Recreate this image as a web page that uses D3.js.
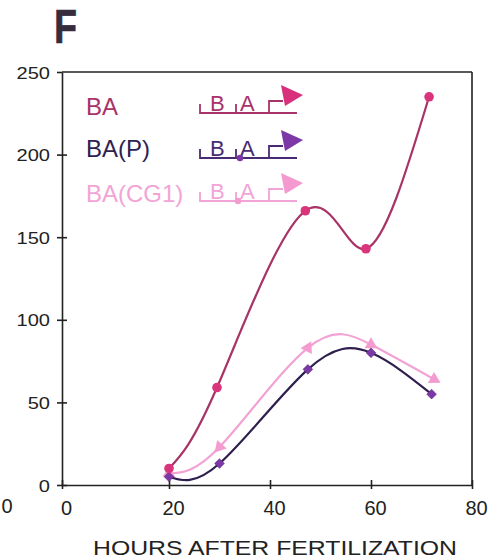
<!DOCTYPE html>
<html>
<head>
<meta charset="utf-8">
<script src="https://cdn.jsdelivr.net/npm/d3@7"></script>
<style>
  html, body { margin: 0; padding: 0; background: #fff; }
  svg { display: block; font-family: "Liberation Sans", Arial, sans-serif; }
</style>
</head>
<body>
<svg id="chart" width="489" height="560"></svg>
<script>
// Reporter expression over development (hours after fertilization)
const seriesNames = ["BA", "BA(P)", "BA(CG1)"];
const baHours   = [20, 29.5, 47, 59, 71.5];
const baValues  = [10, 59, 166, 143, 235];
const pHours    = [20, 30, 47.5, 60, 72];
const pValues   = [5, 13, 70, 80, 55];
const cgHours   = [20, 30, 47.5, 60, 72.5];
const cgValues  = [7, 23, 83, 85, 64];
const xTicks = [0, 20, 40, 60, 80];
const yTicks = [0, 50, 100, 150, 200, 250];
const xTitle = "HOURS AFTER FERTILIZATION";
const panelLabel = "F";

const svg = d3.select("#chart");

const plotLeft = 62, plotRight = 472, plotTop = 72, plotBottom = 485;
const x = d3.scaleLinear().domain([0, 20, 80]).range([plotLeft, 169, plotRight]);
const y = d3.scaleLinear().domain([0, 250]).range([plotBottom, plotTop]);

const colors = {
  ba: { line: "#a83467", mark: "#d9347c", text: "#a8336a" },
  p:  { line: "#2e1f4e", mark: "#7b38a6", text: "#2e2350" },
  cg: { line: "#f2a2d4", mark: "#f49bd0", text: "#f2a4d6" }
};

function stretch(sel, k) {
  sel.each(function () {
    const len = this.getComputedTextLength();
    d3.select(this).attr("textLength", len * k).attr("lengthAdjust", "spacingAndGlyphs");
  });
}

// panel letter
svg.append("text")
  .attr("x", 0).attr("y", 0)
  .attr("transform", "translate(54,43) scale(0.82,1.04)")
  .attr("font-size", 46).attr("font-weight", "bold")
  .attr("fill", "#352c3c").attr("stroke", "#352c3c").attr("stroke-width", 0.6)
  .text(panelLabel);

// frame: top and right
svg.append("line").attr("x1", plotLeft).attr("x2", plotRight).attr("y1", plotTop).attr("y2", plotTop)
  .attr("stroke", "#222").attr("stroke-width", 1.6);
svg.append("line").attr("x1", plotRight).attr("x2", plotRight).attr("y1", plotTop).attr("y2", plotBottom)
  .attr("stroke", "#222").attr("stroke-width", 1.6);

// y axis
const yAxis = svg.append("g").attr("transform", `translate(${plotLeft},0)`)
  .call(d3.axisLeft(y).tickValues(yTicks).tickSize(5).tickSizeOuter(0).tickPadding(7));
yAxis.selectAll(".tick line").attr("x1", 5);
yAxis.selectAll("path, line").attr("stroke", "#222").attr("stroke-width", 1.6);
yAxis.selectAll("text").attr("font-size", 17).attr("fill", "#222")
  .attr("font-family", "Liberation Sans, Arial, sans-serif").attr("dy", "0.36em");
yAxis.select(".tick:last-of-type line").attr("x1", 0);
stretch(yAxis.selectAll("text"), 1.18);

// x axis
const xAxis = svg.append("g").attr("transform", `translate(0,${plotBottom})`)
  .call(d3.axisBottom(x).tickValues(xTicks).tickSize(4).tickSizeOuter(0).tickPadding(12));
xAxis.selectAll(".tick line").attr("y1", -5);
xAxis.selectAll("path, line").attr("stroke", "#222").attr("stroke-width", 1.6);
xAxis.selectAll("text").attr("font-size", 20).attr("fill", "#222").attr("dx", 4)
  .attr("font-family", "Liberation Sans, Arial, sans-serif");

// stray origin label at far left
svg.append("text").attr("x", 7).attr("y", 513).attr("text-anchor", "middle")
  .attr("font-size", 20).attr("fill", "#222").text(xTicks[0]);

// x axis title
svg.append("text").attr("x", 275).attr("y", 555).attr("text-anchor", "middle")
  .attr("font-size", 21).attr("fill", "#222")
  .attr("textLength", 364).attr("lengthAdjust", "spacingAndGlyphs")
  .text(xTitle);

// curves
const line = d3.line().x(d => x(d[0])).y(d => y(d[1])).curve(d3.curveNatural);
const baData = d3.zip(baHours, baValues);
const pData = d3.zip(pHours, pValues);
const cgData = d3.zip(cgHours, cgValues);

const plot = svg.append("g");

// BA(CG1): light pink with arrowhead markers
plot.append("path").datum(cgData).attr("d", line)
  .attr("fill", "none").attr("stroke", colors.cg.line).attr("stroke-width", 2.2);
const cgPeak = d3.maxIndex(cgValues);
plot.selectAll(".cgm").data(cgData).join("path")
  .attr("d", d3.symbol(d3.symbolTriangle, 70))
  .attr("transform", (d, i) => {
    let ang = 0;
    if (i !== cgPeak) {
      const nb = cgData[i < cgPeak ? i + 1 : i - 1];
      const dx = x(d[0]) - x(nb[0]), dy = y(d[1]) - y(nb[1]);
      ang = Math.atan2(dy, dx) * 180 / Math.PI + 90;
    }
    return `translate(${x(d[0])},${y(d[1])}) rotate(${ang})`;
  })
  .attr("fill", colors.cg.mark);

// BA(P): dark line with purple diamonds
plot.append("path").datum(pData).attr("d", line)
  .attr("fill", "none").attr("stroke", colors.p.line).attr("stroke-width", 2.2);
plot.selectAll(".pm").data(pData).join("path")
  .attr("d", d3.symbol(d3.symbolDiamond2 || d3.symbolDiamond, 60))
  .attr("transform", d => `translate(${x(d[0])},${y(d[1])})`)
  .attr("fill", colors.p.mark).attr("stroke", "#5a2a80").attr("stroke-width", 0.6);

// BA: mauve line with pink circles
plot.append("path").datum(baData).attr("d", line)
  .attr("fill", "none").attr("stroke", colors.ba.line).attr("stroke-width", 2.2);
plot.selectAll(".bam").data(baData).join("circle")
  .attr("cx", d => x(d[0])).attr("cy", d => y(d[1])).attr("r", 4.8)
  .attr("fill", colors.ba.mark);

// legend with construct diagrams
const legendRows = [
  { name: seriesNames[0], c: colors.ba, base: 113, label: 115, dot: null, letter: "#a8336a", arrow: "#d8307c" },
  { name: seriesNames[1], c: colors.p,  base: 158, label: 157, dot: 240, letter: "#4a2a72", arrow: "#7b38a6" },
  { name: seriesNames[2], c: colors.cg, base: 201, label: 202, dot: 238, letter: "#f2a4d6", arrow: "#f59ad0" }
];
legendRows.forEach(r => {
  const g = svg.append("g");
  g.append("text").attr("x", 86).attr("y", r.label).attr("font-size", 24)
    .attr("fill", r.c.text).text(r.name);
  const b = r.base;
  // DNA baseline and element boundaries
  g.append("path")
    .attr("d", `M200,${b - 9}V${b}H297 M236,${b - 9}V${b} M269,${b}V${b - 12}H283`)
    .attr("fill", "none").attr("stroke", r.letter).attr("stroke-width", 1.8);
  g.append("text").attr("x", 210).attr("y", b - 2).attr("font-size", 22)
    .attr("fill", r.letter).text("B");
  g.append("text").attr("x", 240).attr("y", b - 2).attr("font-size", 22)
    .attr("fill", r.letter).text("A");
  // promoter arrowhead
  g.append("path")
    .attr("d", `M281,${b - 28}L303,${b - 18}L285,${b - 7}Z`)
    .attr("fill", r.arrow);
  if (r.dot !== null) {
    g.append("circle").attr("cx", r.dot).attr("cy", b).attr("r", 3.3).attr("fill", r.c.mark);
  }
});
</script>
</body>
</html>
